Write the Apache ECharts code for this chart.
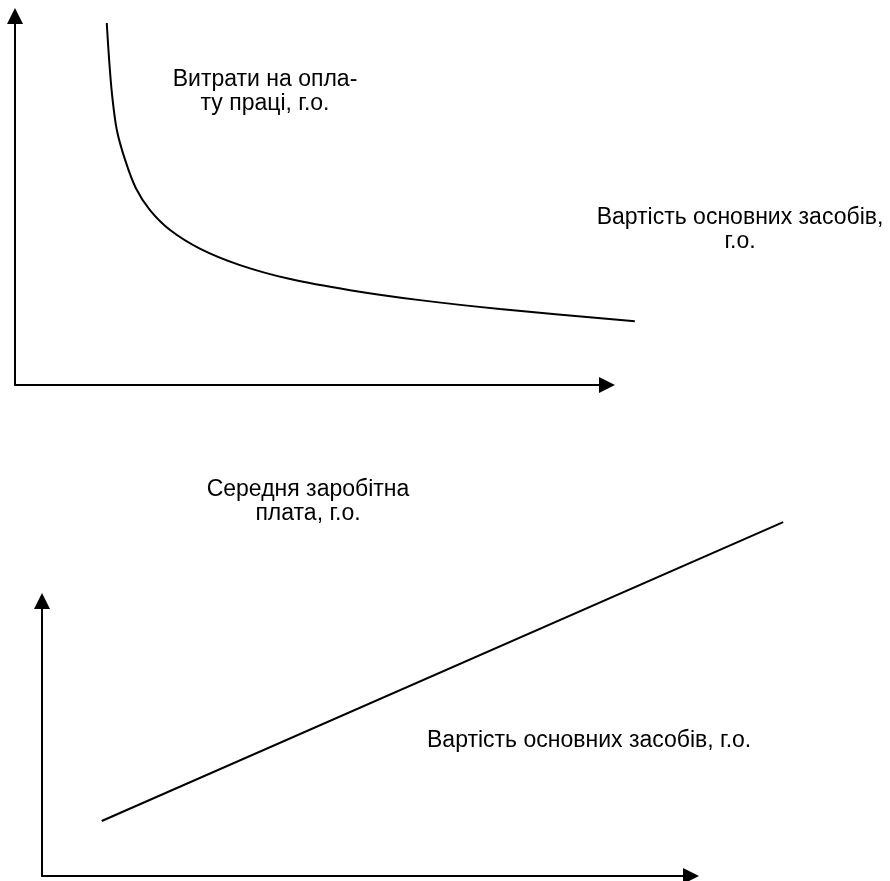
<!DOCTYPE html>
<html>
<head>
<meta charset="utf-8">
<script src="https://cdn.jsdelivr.net/npm/echarts@6/dist/echarts.min.js"></script>
<style>
  html, body { margin: 0; padding: 0; background: #fff; }
  #main { width: 890px; height: 881px; }
</style>
</head>
<body>
<div id="main"></div>
<script>
// верхній графік: витрати на оплату праці (крива)
const costX = [1.55, 1.59, 1.64, 1.72, 1.86, 2.04, 2.28, 2.62, 3.13, 3.80, 4.65, 5.66, 6.84, 8.19, 10.47]
const costY = [9.81, 8.81, 7.86, 6.91, 6.10, 5.34, 4.74, 4.20, 3.69, 3.25, 2.87, 2.57, 2.30, 2.06, 1.73]

// нижній графік: середня заробітна плата (пряма)
const wageX = [0.92, 11.42]
const wageY = [2.0, 12.87]

const topLabel = 'Витрати на опла-\nту праці, г.о.'
const topAxisLabel = 'Вартість основних засобів,\nг.о.'
const bottomLabel = 'Середня заробітна\nплата, г.о.'
const bottomAxisLabel = 'Вартість основних засобів, г.о.'

const chart = echarts.init(document.getElementById('main'), null, { renderer: 'canvas' })

// видимі осі зі стрілками
function axis(gridIndex, max) {
  return {
    type: 'value',
    gridIndex: gridIndex,
    min: 0,
    max: max,
    splitLine: { show: false },
    axisTick: { show: false },
    axisLabel: { show: false },
    axisLine: {
      show: true,
      onZero: false,
      symbol: ['none', 'triangle'],
      symbolSize: [16, 16],
      lineStyle: { color: '#000', width: 2 }
    }
  }
}
// приховані осі того ж масштабу, щоб лінія могла виходити за стрілку
function hidden(gridIndex, max) {
  return {
    type: 'value',
    gridIndex: gridIndex,
    min: 0,
    max: max,
    show: false
  }
}

function zip(xs, ys) {
  return xs.map((x, i) => [x, ys[i]])
}

const font = '23px "Liberation Sans", Arial, sans-serif'
function label(text, x, y, align) {
  return {
    type: 'text',
    x: x,
    y: y,
    style: {
      text: text,
      font: font,
      fill: '#000',
      textAlign: align || 'center',
      textVerticalAlign: 'middle',
      lineHeight: 24
    }
  }
}

chart.setOption({
  animation: false,
  backgroundColor: '#fff',
  grid: [
    { left: 15, top: 16, width: 592, height: 369 },
    { left: 42, top: 601, width: 649, height: 275 },
    { left: 15, top: 16, width: 651.2, height: 369 },
    { left: 42, top: 518.5, width: 778.8, height: 357.5 }
  ],
  xAxis: [axis(0, 10), axis(1, 10), hidden(2, 11), hidden(3, 12)],
  yAxis: [axis(0, 10), axis(1, 10), hidden(2, 10), hidden(3, 13)],
  series: [
    {
      type: 'line',
      xAxisIndex: 2,
      yAxisIndex: 2,
      data: zip(costX, costY),
      smooth: 0.3,
      showSymbol: false,
      lineStyle: { color: '#000', width: 2 }
    },
    {
      type: 'line',
      xAxisIndex: 3,
      yAxisIndex: 3,
      data: zip(wageX, wageY),
      showSymbol: false,
      lineStyle: { color: '#000', width: 2 }
    }
  ],
  graphic: [
    label(topLabel, 265, 92),
    label(topAxisLabel, 740, 230),
    label(bottomLabel, 308, 502),
    label(bottomAxisLabel, 427, 741, 'left')
  ]
})
</script>
</body>
</html>
